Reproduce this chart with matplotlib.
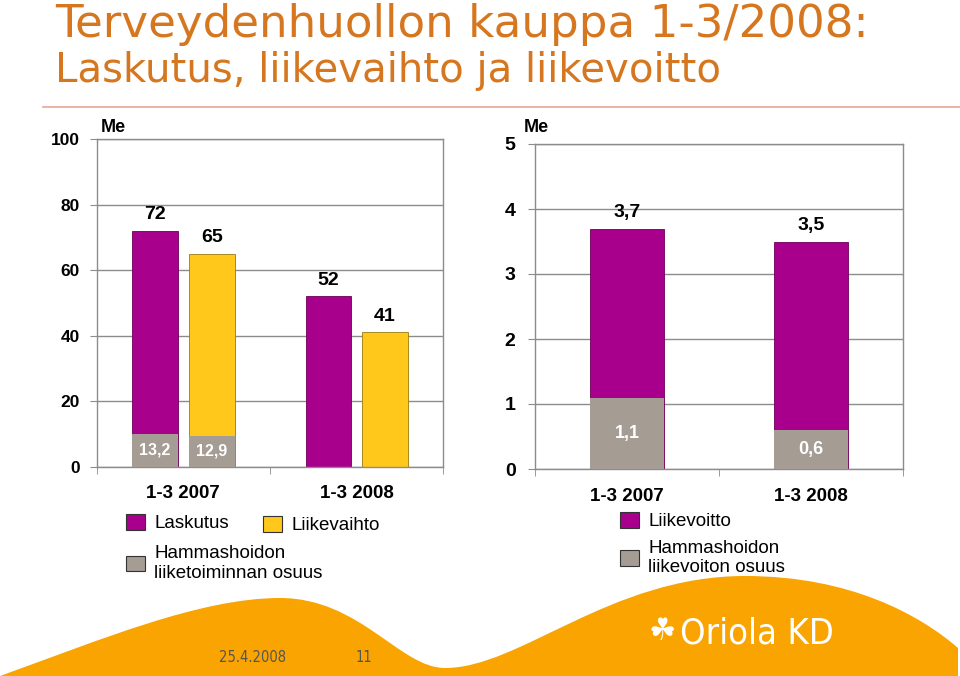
import matplotlib
matplotlib.use("Agg")
import matplotlib.pyplot as plt
from matplotlib.patches import Patch, PathPatch
from matplotlib.path import Path
from matplotlib import font_manager as fm

names = {f.name for f in fm.fontManager.ttflist}
SANS = "Liberation Sans" if "Liberation Sans" in names else "DejaVu Sans"
plt.rcParams["font.family"] = [SANS, "DejaVu Sans"]
COND = dict(family="DejaVu Sans", stretch="condensed")

# ---- data ----
periods = ["1-3 2007", "1-3 2008"]
laskutus = [72, 52]
liikevaihto = [65, 41]
laskutus_labels = ["72", "52"]
liikevaihto_labels = ["65", "41"]
hamma_laskutus = [9.9, 0]        # drawn height of grey segment
hamma_liikevaihto = [9.3, 0]
hamma_labels_l = ["13,2", ""]
hamma_labels_v = ["12,9", ""]
liikevoitto = [3.7, 3.5]
liikevoitto_labels = ["3,7", "3,5"]
hamma_voitto = [1.1, 0.6]
hamma_voitto_labels = ["1,1", "0,6"]
left_ticks = [0, 20, 40, 60, 80, 100]
right_ticks = [0, 1, 2, 3, 4, 5]

PURPLE = "#A8008C"
YELLOW = "#FFC81A"
GREY = "#A59C93"
ORANGE_T = "#D6761E"
GRID = "#8C8C8C"

W, H = 960, 676
fig = plt.figure(figsize=(W / 100, H / 100), dpi=100)
fig.patch.set_facecolor("white")

def fx(px):
    return px / W

def fy(py):
    return 1 - py / H

# Title
fig.text(fx(55), fy(37), "Terveydenhuollon kauppa 1-3/2008:", color=ORANGE_T,
         fontsize=32.5, family="DejaVu Sans", ha="left", va="baseline")
fig.text(fx(55), fy(82), "Laskutus, liikevaihto ja liikevoitto", color=ORANGE_T,
         fontsize=29, family="DejaVu Sans", ha="left", va="baseline")
fig.add_artist(plt.Line2D([fx(43), fx(960)], [fy(107), fy(107)], color="#E8A595", lw=1.2))

def style_axes(ax, ticks, ylim, fsz, pad):
    ax.set_ylim(*ylim)
    ax.set_xlim(-0.5, 1.5)
    ax.set_yticks(ticks)
    ax.set_yticklabels([str(t) for t in ticks], fontsize=fsz, fontweight="bold")
    ax.yaxis.grid(True, color=GRID, lw=1)
    ax.set_axisbelow(True)
    for s in ax.spines.values():
        s.set_color(GRID)
        s.set_linewidth(1)
    ax.tick_params(axis="y", length=5, color=GRID, pad=pad)
    ax.set_xticks([0, 1])
    ax.set_xticklabels(periods, fontsize=13.5, fontweight="bold")
    ax.tick_params(axis="x", which="major", length=0, pad=13.5)
    ax.set_xticks([-0.5, 0.5, 1.5], minor=True)
    ax.tick_params(axis="x", which="minor", length=5, color=GRID)

# ---- left panel ----
axL = fig.add_axes([fx(96.7), fy(466.7), fx(346.7), (466.7 - 139.3) / H])
style_axes(axL, left_ticks, (0, 100), 12.5, 7)
x = [0, 1]
off, bw = 0.163, 0.265
xl = [i - off for i in x]
xv = [i + off for i in x]
axL.bar(xl, laskutus, bw, color=PURPLE, edgecolor="#6a0058", lw=0.6, zorder=2)
axL.bar(xv, liikevaihto, bw, color=YELLOW, edgecolor="#9a7a10", lw=0.6, zorder=2)
axL.bar(xl, hamma_laskutus, bw, color=GREY, edgecolor="none", zorder=3)
axL.bar(xv, hamma_liikevaihto, bw, color=GREY, edgecolor="none", zorder=3)
for xi, v, lab in zip(xl, laskutus, laskutus_labels):
    axL.annotate(lab, (xi, v), xytext=(0, 11.5), textcoords="offset points",
                 ha="center", va="center", fontsize=14, fontweight="bold")
for xi, v, lab in zip(xv, liikevaihto, liikevaihto_labels):
    axL.annotate(lab, (xi, v), xytext=(0, 11.5), textcoords="offset points",
                 ha="center", va="center", fontsize=14, fontweight="bold")
for xs, hs, labs in ((xl, hamma_laskutus, hamma_labels_l), (xv, hamma_liikevaihto, hamma_labels_v)):
    for xi, h, lab in zip(xs, hs, labs):
        if lab:
            axL.text(xi, h / 2, lab, ha="center", va="center", color="white",
                     fontsize=11.5, fontweight="bold", zorder=4)
fig.text(fx(101), fy(128), "Me", fontsize=13, fontweight="bold", ha="left", va="center")

# ---- right panel ----
axR = fig.add_axes([fx(535), fy(469), fx(368.3), (469 - 144) / H])
style_axes(axR, right_ticks, (0, 5), 14, 9)
bw2 = 0.40
axR.bar(x, liikevoitto, bw2, color=PURPLE, edgecolor="#6a0058", lw=0.6, zorder=2)
axR.bar(x, hamma_voitto, bw2, color=GREY, edgecolor="none", zorder=3)
for xi, v, lab in zip(x, liikevoitto, liikevoitto_labels):
    axR.annotate(lab, (xi, v), xytext=(0, 11.5), textcoords="offset points",
                 ha="center", va="center", fontsize=14, fontweight="bold")
for xi, h, lab in zip(x, hamma_voitto, hamma_voitto_labels):
    axR.text(xi, h / 2, lab, ha="center", va="center", color="white",
             fontsize=13, fontweight="bold", zorder=4)
fig.text(fx(524), fy(127), "Me", fontsize=13, fontweight="bold", ha="left", va="center")

# ---- legends ----
def hp(c):
    return Patch(facecolor=c, edgecolor="#333333", lw=0.8)

common = dict(loc="upper left", frameon=False, fontsize=13.5, handlelength=1.0,
              handleheight=0.9, handletextpad=0.5, borderaxespad=0, borderpad=0)
fig.legend([hp(PURPLE), hp(GREY)],
           ["Laskutus", "Hammashoidon\nliiketoiminnan osuus"],
           bbox_to_anchor=(fx(126), fy(514)), labelspacing=0.7, **common)
fig.legend([hp(YELLOW)], ["Liikevaihto"],
           bbox_to_anchor=(fx(263), fy(516)), **common)
fig.legend([hp(PURPLE), hp(GREY)],
           ["Liikevoitto", "Hammashoidon\nliikevoiton osuus"],
           bbox_to_anchor=(fx(620), fy(512)), labelspacing=0.5, **common)

# ---- footer wave ----
def P(px, py):
    return (fx(px), fy(py))

verts = [P(0, 676),
         P(100, 640), P(200, 598), P(280, 598),
         P(360, 598), P(400, 668), P(445, 668),
         P(520, 668), P(610, 576), P(745, 576),
         P(850, 576), P(920, 615), P(958, 648),
         P(958, 676), P(0, 676)]
codes = [Path.MOVETO] + [Path.CURVE4] * 12 + [Path.LINETO, Path.CLOSEPOLY]
fig.add_artist(PathPatch(Path(verts, codes), facecolor="#F9A400", edgecolor="none",
                         transform=fig.transFigure, zorder=0))
fig.text(fx(253), fy(657), "25.4.2008", color="#555555", fontsize=10.5,
         ha="center", va="center", **COND)
fig.text(fx(364), fy(657), "11", color="#555555", fontsize=10.5,
         ha="center", va="center", **COND)
fig.text(fx(680), fy(633), "Oriola KD", color="white", fontsize=26,
         ha="left", va="center", **COND)
fig.text(fx(662), fy(632), "\u2618", color="white", fontsize=22, family="DejaVu Sans",
         ha="center", va="center")

fig.savefig("out.png", dpi=100)
